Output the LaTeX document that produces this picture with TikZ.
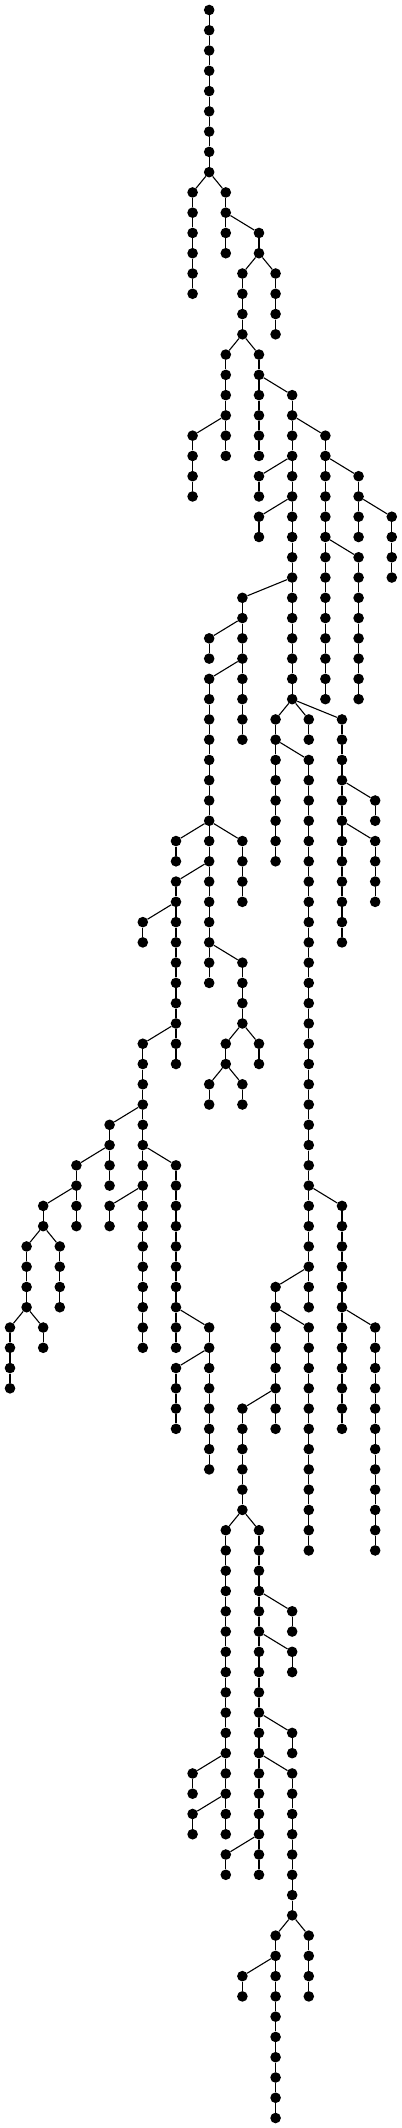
\documentclass[tikz,border=0pt]{standalone}
\usepackage{tikz}

\begin{document}
\begin{tikzpicture}[
    x=16.6pt, y=-20.27pt,
    dot/.style={circle, fill=black, inner sep=0pt, minimum size=10.6pt},
    edge/.style={-, line width=1.1pt}
    ]

\useasboundingbox (-10pt,10pt) rectangle (391.8pt,-2118.08pt);

% Root
\node[dot] (n12-0) at (12,0) {};

% Chains: column / first level / last level / parent column / parent level
\foreach \c/\a/\b/\pc/\pl in {
    12/1/8/12/0,
    11/9/14/12/8, 13/9/12/12/8,
    15/11/12/13/10,
    14/13/16/15/12, 16/13/16/15/12,
    13/17/22/14/16, 11/21/24/13/20,
    15/17/22/14/16,
    17/19/34/15/18, 19/21/34/17/20,
    15/23/24/17/22, 15/25/26/17/24,
    21/23/26/19/22, 23/25/28/21/24, 21/27/34/19/26,
    % left part
    14/29/36/17/28, 12/31/32/14/30, 12/33/48/14/32,
    10/41/42/12/40, 14/41/44/12/40, 10/43/52/12/42,
    8/45/46/10/44, 8/51/66/10/50,
    6/55/58/8/54, 4/57/60/6/56, 2/59/60/4/58,
    1/61/64/2/60, 3/61/64/2/60,
    0/65/68/1/64, 2/65/66/1/64,
    6/59/60/8/58,
    10/57/66/8/56, 12/65/72/10/64, 10/67/70/12/66,
    14/47/50/12/46, 13/51/52/14/50, 15/51/52/14/50,
    12/53/54/13/52, 14/53/54/13/52,
    % right part
    16/35/42/17/34, 18/35/36/17/34, 20/35/46/17/34,
    22/39/40/20/38, 22/41/44/20/40,
    18/37/64/16/36,
    20/59/70/18/58, 22/65/76/20/64,
    16/63/70/18/62, 18/65/76/16/64,
    14/69/74/16/68,
    13/75/90/14/74, 11/87/88/13/86, 11/89/90/13/88,
    15/75/92/14/74,
    17/79/80/15/78, 17/81/82/15/80, 17/85/86/15/84, 17/87/94/15/86,
    13/91/92/15/90,
    16/95/104/17/94, 18/95/98/17/94, 14/97/98/16/96}{
  \foreach \l in {\a,...,\b}{
    \node[dot] (n\c-\l) at (\c,\l) {};
    \pgfmathtruncatemacro\u{\l-1}
    \ifnum\l=\a
      \draw[edge] (n\pc-\pl) -- (n\c-\l);
    \else
      \draw[edge] (n\c-\u) -- (n\c-\l);
    \fi
  }
}

\end{tikzpicture}
\end{document}
